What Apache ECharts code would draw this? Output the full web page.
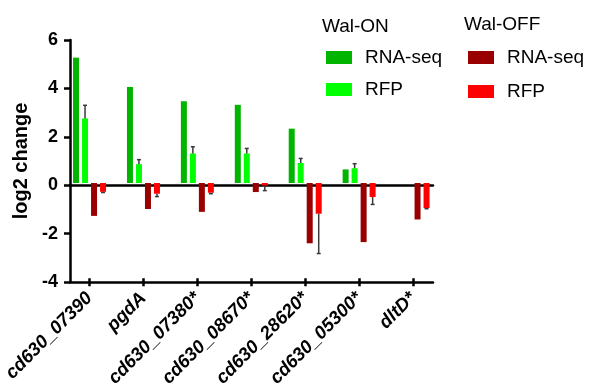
<!DOCTYPE html>
<html>
<head>
<meta charset="utf-8">
<script src="https://cdn.jsdelivr.net/npm/echarts@6/dist/echarts.min.js"></script>
<style>html,body{margin:0;padding:0;background:#fff}#c{width:589px;height:390px}</style>
</head>
<body>
<div id="c"></div>
<script>
const categories = ['cd630_07390','pgdA','cd630_07380*','cd630_08670*','cd630_28620*','cd630_05300*','dltD*'];
const onRnaSeq  = [5.26, 4.03, 3.43, 3.28, 2.28, 0.57, 0];
const onRfp     = [2.71, 0.79, 1.24, 1.24, 0.84, 0.62, 0];
const onRfpErr  = [3.26, 0.98, 1.52, 1.45, 1.03, 0.81, null];
const offRnaSeq = [-1.38, -1.09, -1.21, -0.38, -2.53, -2.48, -1.53];
const offRfp    = [-0.37, -0.45, -0.41, -0.11, -1.29, -0.59, -1.05];
const offRfpErr = [-0.40, -0.57, -0.45, -0.32, -2.96, -0.90, -1.08];
const yTicks = [-4, -2, 0, 2, 4, 6];

const FONT = "'Liberation Sans', Arial, sans-serif";
const BW = 6, GAP = 3;
const C_ON_RNA = '#00b400', C_ON_RFP = '#00ff00', C_OFF_RNA = '#990000', C_OFF_RFP = '#ff0000';

function errSeries(k, vals, errs) {
  return {
    type: 'custom', xAxisIndex: 0, yAxisIndex: 0, z: 5, silent: true,
    data: vals.map((v, i) => [i, v, errs[i] == null ? v : errs[i]]),
    renderItem: function (params, api) {
      const i = api.value(0), v = api.value(1), e = api.value(2);
      if (e === v) return null;
      const p0 = api.coord([i, v]), p1 = api.coord([i, e]);
      const x = p0[0] + (k - 1.5) * (BW + GAP);
      const st = { stroke: '#3a3a3a', lineWidth: 1.5 };
      return { type: 'group', children: [
        { type: 'line', shape: { x1: x, y1: p0[1], x2: x, y2: p1[1] }, style: st },
        { type: 'line', shape: { x1: x - 2, y1: p1[1], x2: x + 2, y2: p1[1] }, style: st }
      ]};
    }
  };
}

const chart = echarts.init(document.getElementById('c'));
chart.setOption({
  animation: false,
  textStyle: { fontFamily: FONT },
  title: [
    { text: 'Wal-ON', left: 317, top: 12, textStyle: { fontFamily: FONT, fontSize: 19, fontWeight: 'normal', color: '#000' } },
    { text: 'Wal-OFF', left: 459, top: 10, textStyle: { fontFamily: FONT, fontSize: 19, fontWeight: 'normal', color: '#000' } }
  ],
  legend: [
    { data: ['Wal-ON RNA-seq', 'Wal-ON RFP'], orient: 'vertical', left: 321, top: 43, itemWidth: 26, itemHeight: 13, itemGap: 13,
      icon: 'rect', formatter: n => n.split(' ').slice(1).join(' '),
      textStyle: { fontFamily: FONT, fontSize: 19, color: '#000', padding: [0, 0, 0, 8] } },
    { data: ['Wal-OFF RNA-seq', 'Wal-OFF RFP'], orient: 'vertical', left: 463, top: 43, itemWidth: 26, itemHeight: 13, itemGap: 15,
      icon: 'rect', formatter: n => n.split(' ').slice(1).join(' '),
      textStyle: { fontFamily: FONT, fontSize: 19, color: '#000', padding: [0, 0, 0, 8] } }
  ],
  grid: [
    { left: 62, width: 378, top: 40, height: 242, containLabel: false },
    { left: 70, width: 363, top: 40, height: 242, containLabel: false }
  ],
  xAxis: [
    { type: 'category', gridIndex: 0, data: categories, boundaryGap: true,
      axisLine: { show: false, onZero: false },
      axisTick: { show: true, alignWithLabel: true, length: 8, lineStyle: { color: '#000', width: 2.5 } },
      axisLabel: { rotate: 45, margin: 17, interval: 0, fontFamily: FONT, fontSize: 18.5, fontWeight: 'bold', fontStyle: 'italic', color: '#000' } },
    { type: 'value', gridIndex: 1, min: 0, max: 1, position: 'bottom',
      axisLine: { show: true, onZero: false, lineStyle: { color: '#000', width: 2.5 } },
      axisTick: { show: false }, axisLabel: { show: false }, splitLine: { show: false } },
    { type: 'value', gridIndex: 1, min: 0, max: 1, position: 'top',
      axisLine: { show: true, onZero: true, lineStyle: { color: '#000', width: 2.5 } },
      axisTick: { show: false }, axisLabel: { show: false }, splitLine: { show: false } }
  ],
  yAxis: [
    { type: 'value', gridIndex: 0, min: -4, max: 6, interval: 2, show: false, splitLine: { show: false } },
    { type: 'value', gridIndex: 1, min: yTicks[0], max: yTicks[yTicks.length - 1], interval: 2,
      name: 'log2 change', nameLocation: 'middle', nameGap: 27,
      nameTextStyle: { fontFamily: FONT, fontSize: 20, fontWeight: 'bold', color: '#000' },
      axisLine: { show: true, onZero: false, lineStyle: { color: '#000', width: 2.5 } },
      axisTick: { show: true, length: 6, lineStyle: { color: '#000', width: 2.5 } },
      axisLabel: { margin: 12, fontFamily: FONT, fontSize: 18, fontWeight: 'bold', color: '#000' },
      splitLine: { show: false } }
  ],
  series: [
    { name: 'Wal-ON RNA-seq', type: 'bar', xAxisIndex: 0, yAxisIndex: 0, data: onRnaSeq, barWidth: BW, barGap: '50%', itemStyle: { color: C_ON_RNA } },
    { name: 'Wal-ON RFP', type: 'bar', xAxisIndex: 0, yAxisIndex: 0, data: onRfp, barWidth: BW, barGap: '50%', itemStyle: { color: C_ON_RFP } },
    { name: 'Wal-OFF RNA-seq', type: 'bar', xAxisIndex: 0, yAxisIndex: 0, data: offRnaSeq, barWidth: BW, barGap: '50%', itemStyle: { color: C_OFF_RNA } },
    { name: 'Wal-OFF RFP', type: 'bar', xAxisIndex: 0, yAxisIndex: 0, data: offRfp, barWidth: BW, barGap: '50%', itemStyle: { color: C_OFF_RFP } },
    errSeries(1, onRfp, onRfpErr),
    errSeries(3, offRfp, offRfpErr)
  ]
});
</script>
</body>
</html>
